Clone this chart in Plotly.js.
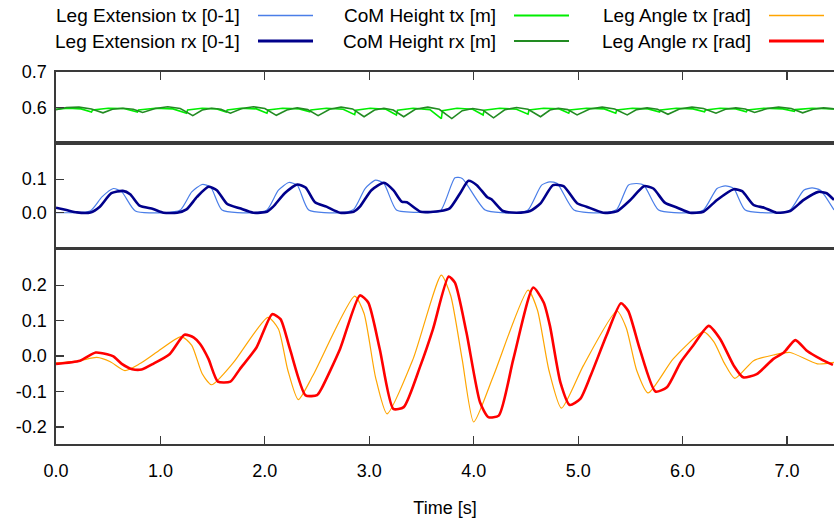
<!DOCTYPE html>
<html>
<head>
<meta charset="utf-8">
<script src="https://cdn.plot.ly/plotly-3.0.1.min.js"></script>
<style>html,body{margin:0;padding:0;background:#fff;}#chart{width:834px;height:520px;}</style>
</head>
<body>
<div id="chart"></div>
<script>
// ---------- DATA ----------
const legendLabels = [
  ["Leg Extension tx [0-1]", "Leg Extension rx [0-1]"],
  ["CoM Height tx [m]", "CoM Height rx [m]"],
  ["Leg Angle tx [rad]", "Leg Angle rx [rad]"]
];
const xTickVals = [0, 1, 2, 3, 4, 5, 6, 7];
const xTickText = ["0.0", "1.0", "2.0", "3.0", "4.0", "5.0", "6.0", "7.0"];
const angleTickVals = [-0.2, -0.1, 0, 0.1, 0.2];
const angleTickText = ["-0.2", "-0.1", "0.0", "0.1", "0.2"];
const extTickVals = [0, 0.1];
const extTickText = ["0.0", "0.1"];
const comTickVals = [0.6, 0.7];
const comTickText = ["0.6", "0.7"];

// CoM height, tx (bright green)
const comTxT = [0,0.12,0.24,0.34, 0.35,0.50,0.65,0.78, 0.79,0.95,1.12,1.25, 1.26,1.40,1.54,1.63, 1.64,1.77,1.92,2.02, 2.03,2.17,2.33,2.43, 2.44,2.59,2.75,2.86, 2.87,3.01,3.16,3.26, 3.27,3.42,3.58,3.69, 3.70,3.84,3.99,4.09, 4.10,4.25,4.41,4.52, 4.53,4.67,4.82,4.91, 4.92,5.08,5.25,5.36, 5.37,5.52,5.67,5.78, 5.79,5.94,6.10,6.21, 6.22,6.36,6.51,6.61, 6.62,6.78,6.96,7.07, 7.08,7.24,7.45];
const comTxV = [0.596,0.599,0.597,0.588, 0.594,0.599,0.598,0.588, 0.594,0.599,0.597,0.585, 0.594,0.599,0.597,0.588, 0.594,0.599,0.597,0.585, 0.594,0.599,0.597,0.589, 0.594,0.599,0.596,0.581, 0.593,0.599,0.596,0.580, 0.593,0.599,0.595,0.570, 0.592,0.599,0.596,0.580, 0.593,0.599,0.596,0.582, 0.594,0.599,0.597,0.585, 0.594,0.599,0.597,0.585, 0.594,0.599,0.597,0.588, 0.594,0.599,0.597,0.589, 0.594,0.599,0.597,0.589, 0.594,0.599,0.597,0.590, 0.595,0.599,0.597];
// CoM height, rx (dark green)
const comRxT = [0,0.10,0.22,0.34,0.45, 0.54,0.64,0.74,0.83, 0.95,1.07,1.19,1.31, 1.40,1.49,1.58,1.67, 1.78,1.89,2.00,2.11, 2.21,2.31,2.41,2.51, 2.62,2.73,2.84,2.95, 3.05,3.14,3.23,3.33, 3.44,3.56,3.67,3.79, 3.89,3.99,4.09,4.19, 4.30,4.41,4.52,4.64, 4.73,4.81,4.90,4.99, 5.11,5.23,5.35,5.47, 5.56,5.66,5.76,5.86, 5.97,6.09,6.20,6.32, 6.41,6.51,6.60,6.69, 6.81,6.92,7.04,7.15, 7.25,7.35,7.45];
const comRxV = [0.595,0.601,0.602,0.597,0.586, 0.596,0.599,0.596,0.587, 0.598,0.603,0.598,0.578, 0.594,0.599,0.596,0.585, 0.598,0.603,0.598,0.579, 0.594,0.600,0.595,0.578, 0.596,0.602,0.597,0.575, 0.594,0.599,0.594,0.575, 0.596,0.602,0.596,0.570, 0.592,0.598,0.593,0.572, 0.595,0.601,0.596,0.575, 0.594,0.599,0.595,0.580, 0.597,0.602,0.597,0.580, 0.595,0.600,0.596,0.582, 0.597,0.602,0.598,0.585, 0.596,0.600,0.597,0.587, 0.598,0.602,0.598,0.586, 0.596,0.600,0.597];

// Leg extension, tx (light blue)
const extTxT = [0,0.33,0.44,0.55,0.63,0.76, 1.03,1.19,1.30,1.40,1.48,1.59, 1.89,2.02,2.13,2.23,2.31,2.42, 2.72,2.85,2.96,3.06,3.14,3.26, 3.49,3.68,3.82,3.89,4.11, 4.41,4.52,4.65,4.73,4.80,4.96, 5.24,5.37,5.48,5.56,5.63,5.77, 6.07,6.20,6.33,6.41,6.49,6.60, 6.90,7.03,7.16,7.24,7.32,7.45];
const extTxV = [0,0.006,0.047,0.072,0.062,0.005, 0,0.008,0.062,0.084,0.077,0.008, 0,0.008,0.067,0.090,0.082,0.008, 0,0.010,0.072,0.097,0.087,0.008, 0.001,0.005,0.104,0.102,0.008, 0,0.008,0.082,0.092,0.087,0.008, 0,0.010,0.082,0.087,0.082,0.008, 0,0.008,0.072,0.080,0.072,0.008, 0,0.008,0.067,0.074,0.067,0.008];
// Leg extension, rx (dark blue)
const extRxT = [0,0.10,0.20,0.33,0.42, 0.53,0.64,0.71,0.80,0.93, 1.03,1.16,1.25,1.35,1.46, 1.54,1.64,1.76,1.89,2.02, 2.08,2.19,2.31,2.39,2.48, 2.59,2.72,2.85,2.91,3.02, 3.14,3.23,3.31,3.36,3.49, 3.68,3.77,3.87,3.95,4.03, 4.13,4.17,4.28,4.41,4.54, 4.64,4.76,4.86,4.99,5.08, 5.24,5.37,5.50,5.63,5.72, 5.83,5.95,6.07,6.20,6.33, 6.49,6.57,6.68,6.78,6.90, 7.03,7.16,7.30,7.38,7.45];
const extRxV = [0.015,0.008,0.001,0.001,0.018, 0.058,0.065,0.055,0.021,0.011, 0,0,0.010,0.047,0.077, 0.067,0.026,0.013,0,0.003, 0.018,0.058,0.084,0.075,0.031, 0.018,0,0.003,0.018,0.067, 0.089,0.067,0.033,0.031,0.003, 0.005,0.013,0.058,0.095,0.082, 0.046,0.040,0.005,0,0.005, 0.028,0.082,0.079,0.028,0.018, 0,0.004,0.038,0.079,0.072, 0.030,0.015,0,0.003,0.038, 0.070,0.064,0.023,0.015,0, 0.005,0.038,0.062,0.058,0.038];

// Leg angle, tx (orange)
const angTxT = [0,0.23,0.39,0.52,0.66, 0.80,0.96,1.20,1.30,1.40, 1.49,1.70,2.03,2.13,2.22, 2.32,2.46,2.86,2.95,3.06, 3.17,3.42,3.69,3.78,3.89, 4.00,4.19,4.52,4.61,4.72, 4.84,5.05,5.37,5.46,5.56, 5.67,5.91,6.20,6.30,6.40, 6.50,6.68,6.87,7.03,7.29, 7.45];
const angTxV = [-0.020,-0.013,-0.004,-0.016,-0.041, -0.022,0.010,0.055,0.030,-0.050, -0.081,-0.018,0.109,0.076,-0.040, -0.123,-0.055,0.169,0.120,-0.060, -0.163,-0.008,0.228,0.170,-0.010, -0.186,-0.055,0.186,0.130,-0.040, -0.147,-0.027,0.127,0.080,-0.040, -0.104,-0.008,0.068,0.040,-0.020, -0.063,-0.013,0.003,0.010,-0.022, -0.018];
// Leg angle, rx (red)
const angRxT = [0,0.23,0.38,0.49,0.55, 0.63,0.73,0.82,0.93,1.09, 1.23,1.32,1.38,1.46,1.55, 1.67,1.76,1.92,2.07,2.15, 2.24,2.39,2.50,2.54,2.72, 2.91,2.99,3.10,3.23,3.33, 3.49,3.61,3.76,3.82,3.93, 4.06,4.14,4.24,4.38,4.57, 4.67,4.73,4.83,4.92,5.02, 5.12,5.27,5.41,5.48,5.59, 5.74,5.85,5.98,6.10,6.25, 6.36,6.49,6.58,6.71,6.87, 6.97,7.08,7.19,7.32,7.44];
const angRxV = [-0.022,-0.013,0.010,0.005,-0.001, -0.022,-0.037,-0.038,-0.022,0.006, 0.060,0.052,0.034,-0.008,-0.072, -0.072,-0.037,0.024,0.118,0.104, 0.020,-0.111,-0.110,-0.093,0.020, 0.171,0.151,0.020,-0.149,-0.144, -0.027,0.076,0.224,0.207,0.067, -0.130,-0.172,-0.168,-0.008,0.193, 0.151,0.085,-0.074,-0.138,-0.121, -0.055,0.057,0.149,0.127,0.020, -0.100,-0.088,-0.018,0.029,0.085, 0.048,-0.027,-0.060,-0.051,-0.008, 0.010,0.045,0.015,-0.008,-0.025];

// ---------- STYLES ----------
const styles = {
  extTx: {color: '#4a7ee8', width: 1.2, legendWidth: 1.5},
  extRx: {color: '#00008b', width: 2.6, legendWidth: 3},
  comTx: {color: '#00ee00', width: 1.6, legendWidth: 2},
  comRx: {color: '#228b22', width: 1.6, legendWidth: 2},
  angTx: {color: '#ffa500', width: 1.2, legendWidth: 1.5},
  angRx: {color: '#ff0000', width: 2.6, legendWidth: 3}
};

function tr(x, y, xa, ya, st, shape) {
  return {x: x, y: y, xaxis: xa, yaxis: ya, type: 'scatter', mode: 'lines',
    line: {color: st.color, width: st.width, shape: shape, smoothing: 0.6},
    hoverinfo: 'skip', showlegend: false};
}

const data = [
  tr(comTxT, comTxV, 'x3', 'y3', styles.comTx, 'linear'),
  tr(comRxT, comRxV, 'x3', 'y3', styles.comRx, 'linear'),
  tr(extTxT, extTxV, 'x2', 'y2', styles.extTx, 'spline'),
  tr(extRxT, extRxV, 'x2', 'y2', styles.extRx, 'spline'),
  tr(angTxT, angTxV, 'x', 'y', styles.angTx, 'spline'),
  tr(angRxT, angRxV, 'x', 'y', styles.angRx, 'spline')
];

// ---------- LAYOUT ----------
const W = 834, H = 520;
const M = {l: 56, r: 0, t: 72, b: 76};
const PW = W - M.l - M.r, PH = H - M.t - M.b;
const px2x = p => (p - M.l) / PW;
const py2y = p => (H - M.b - p) / PH;

const lineCol = '#3a3a3a';
const baseAxis = {showgrid: false, zeroline: false, showline: true, linecolor: lineCol, linewidth: 1.6,
  ticks: 'inside', ticklen: 8, tickwidth: 1.2, tickcolor: lineCol};

const layout = {
  width: W, height: H, margin: M,
  paper_bgcolor: '#fff', plot_bgcolor: '#fff',
  font: {family: '"Liberation Sans", Arial, sans-serif', size: 18, color: '#000'},
  showlegend: false,
  xaxis: Object.assign({}, baseAxis, {domain: [0, 1], anchor: 'y', range: [0, 7.45], mirror: true,
    tickvals: xTickVals, ticktext: xTickText, ticklabelstandoff: 10,
    title: {text: 'Time [s]', standoff: 21, font: {size: 18}}}),
  xaxis2: Object.assign({}, baseAxis, {domain: [0, 1], anchor: 'y2', matches: 'x', mirror: true,
    ticks: '', showticklabels: false}),
  xaxis3: Object.assign({}, baseAxis, {domain: [0, 1], anchor: 'y3', matches: 'x', mirror: true,
    side: 'top', tickvals: xTickVals, showticklabels: false}),
  yaxis: Object.assign({}, baseAxis, {domain: [0, py2y(250)], anchor: 'x', range: [-0.248, 0.299],
    tickvals: angleTickVals, ticktext: angleTickText, ticklabelstandoff: 4}),
  yaxis2: Object.assign({}, baseAxis, {domain: [py2y(247), py2y(144.5)], anchor: 'x2', range: [-0.102, 0.203],
    tickvals: extTickVals, ticktext: extTickText, ticklabelstandoff: 4}),
  yaxis3: Object.assign({}, baseAxis, {domain: [py2y(141), 1], anchor: 'x3', range: [0.507, 0.7005],
    tickvals: comTickVals, ticktext: comTickText, ticklabelstandoff: 4}),
  annotations: [], shapes: []
};

// custom legend: text then line sample, 3 columns x 2 rows
const legStyles = [[styles.extTx, styles.extRx], [styles.comTx, styles.comRx], [styles.angTx, styles.angRx]];
const colLineStart = [258, 514, 769];
const rowY = [15.5, 41];
for (let c = 0; c < 3; c++) {
  for (let r = 0; r < 2; r++) {
    const st = legStyles[c][r];
    layout.annotations.push({xref: 'paper', yref: 'paper', x: px2x(colLineStart[c] - 16), y: py2y(rowY[r]),
      xanchor: 'right', yanchor: 'middle', text: legendLabels[c][r], showarrow: false,
      font: {size: 19, color: '#000'}});
    layout.shapes.push({type: 'line', xref: 'paper', yref: 'paper',
      x0: px2x(colLineStart[c]), x1: px2x(colLineStart[c] + 55), y0: py2y(rowY[r]), y1: py2y(rowY[r]),
      line: {color: st.color, width: st.legendWidth}});
  }
}

Plotly.newPlot('chart', data, layout, {staticPlot: true, displayModeBar: false});
</script>
</body>
</html>
